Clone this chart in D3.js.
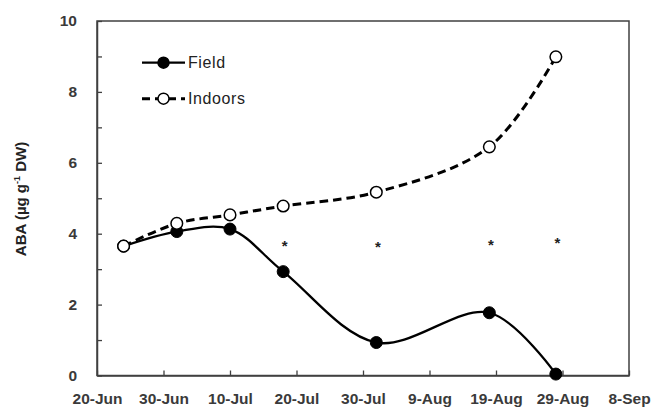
<!DOCTYPE html>
<html><head><meta charset="utf-8">
<script src="https://cdn.jsdelivr.net/npm/d3@7"></script>
<style>body{margin:0;background:#fff}svg{display:block}</style>
</head><body><svg id="c" width="651" height="407"></svg>
<script>
const sampleDates = ["2019-06-24","2019-07-02","2019-07-10","2019-07-18","2019-08-01","2019-08-18","2019-08-28"];
const fieldValues = [3.65, 4.06, 4.13, 2.93, 0.93, 1.77, 0.04];
const indoorsValues = [3.65, 4.29, 4.53, 4.78, 5.17, 6.45, 8.99];
const sigDates = ["2019-07-18","2019-08-01","2019-08-18","2019-08-28"];
const sigValues = [3.73, 3.70, 3.77, 3.82];
const xTickDates = ["2019-06-20","2019-06-30","2019-07-10","2019-07-20","2019-07-30","2019-08-09","2019-08-19","2019-08-29","2019-09-08"];
const yTicks = [0,1,2,3,4,5,6,7,8,9,10];
const yLabelTicks = [0,2,4,6,8,10];

const parse = d3.timeParse("%Y-%m-%d");
const svg = d3.select("#c");
const L=97, R=629, T=21, B=375.5;
const x = d3.scaleTime().domain([parse(xTickDates[0]), parse(xTickDates[xTickDates.length-1])]).range([L,R]);
const y = d3.scaleLinear().domain([0,10]).range([B,T]);
const axisCol = "#404040", textCol = "#3a3a3a";
const font = "'Liberation Sans', Arial, sans-serif";

// frame
svg.append("rect").attr("x",L).attr("y",T).attr("width",R-L).attr("height",B-T)
  .attr("fill","none").attr("stroke",axisCol).attr("stroke-width",1.5);

// x axis
const xa = svg.append("g").attr("transform",`translate(0,${B})`)
  .call(d3.axisBottom(x).tickValues(xTickDates.map(parse)).tickFormat(d3.timeFormat("%-d-%b")).tickSizeInner(-5).tickSizeOuter(0).tickPadding(17));
xa.select(".domain").attr("stroke",axisCol).attr("stroke-width",1.5);
xa.selectAll(".tick line").attr("stroke",axisCol).attr("stroke-width",1.3);
xa.selectAll("text").attr("font-family",font).attr("font-weight","bold").attr("font-size","15.5px").attr("fill",textCol);

// y axis
const ya = svg.append("g").attr("transform",`translate(${L},0)`)
  .call(d3.axisLeft(y).tickValues(yTicks).tickFormat(d=>yLabelTicks.includes(d)?d:"").tickSizeInner(-5).tickSizeOuter(0).tickPadding(20));
ya.select(".domain").attr("stroke",axisCol).attr("stroke-width",1.5);
ya.selectAll(".tick line").attr("stroke",axisCol).attr("stroke-width",1.3);
ya.selectAll("text").attr("font-family",font).attr("font-weight","bold").attr("font-size","15.5px").attr("fill",textCol);

// y title
const yt = svg.append("text").attr("transform","translate(26,199) rotate(-90)").attr("text-anchor","middle")
  .attr("font-family",font).attr("font-weight","bold").attr("font-size","15px").attr("fill","#222");
yt.append("tspan").text("ABA (µg g");
yt.append("tspan").attr("dy",-6).attr("font-size","9px").text("-1");
yt.append("tspan").attr("dy",6).text(" DW)");

const curve = d3.curveCatmullRom.alpha(0.5);
const line = d3.line().x(d=>x(d[0])).y(d=>y(d[1])).curve(curve);
const fieldData = sampleDates.map((d,i)=>[parse(d), fieldValues[i]]);
const indoorData = sampleDates.map((d,i)=>[parse(d), indoorsValues[i]]);

svg.append("path").attr("d",line(fieldData)).attr("fill","none").attr("stroke","#000").attr("stroke-width",2.3);
svg.append("path").attr("d",line(indoorData)).attr("fill","none").attr("stroke","#000").attr("stroke-width",3).attr("stroke-dasharray","8.5,5");

svg.selectAll(".fp").data(fieldData).join("circle").attr("cx",d=>x(d[0])).attr("cy",d=>y(d[1])).attr("r",6)
  .attr("fill","#000").attr("stroke","#000").attr("stroke-width",1);
svg.selectAll(".ip").data(indoorData).join("circle").attr("cx",d=>x(d[0])).attr("cy",d=>y(d[1])).attr("r",5.8)
  .attr("fill","#fff").attr("stroke","#000").attr("stroke-width",1.5);

// significance asterisks
svg.selectAll(".sig").data(sigDates.map((d,i)=>[parse(d), sigValues[i]])).join("text")
  .attr("x",d=>x(d[0])+1.5).attr("y",d=>y(d[1])+8).attr("text-anchor","middle")
  .attr("font-family",font).attr("font-weight","bold").attr("font-size","15px").attr("fill","#222").text("*");

// legend
const leg = [{name:"Field", y:62.7, fill:"#000", dash:null, w:2.3},{name:"Indoors", y:98.7, fill:"#fff", dash:"8,5", w:3}];
leg.forEach(l=>{
  svg.append("line").attr("x1",142).attr("x2",185).attr("y1",l.y).attr("y2",l.y).attr("stroke","#000").attr("stroke-width",l.w).attr("stroke-dasharray",l.dash);
  svg.append("circle").attr("cx",163.5).attr("cy",l.y).attr("r",5.5).attr("fill",l.fill).attr("stroke","#000").attr("stroke-width",1.5);
  svg.append("text").attr("x",188).attr("y",l.y+5.5).attr("font-family",font).attr("font-size","16px").attr("letter-spacing","0.6px").attr("fill","#222").text(l.name);
});
</script></body></html>
